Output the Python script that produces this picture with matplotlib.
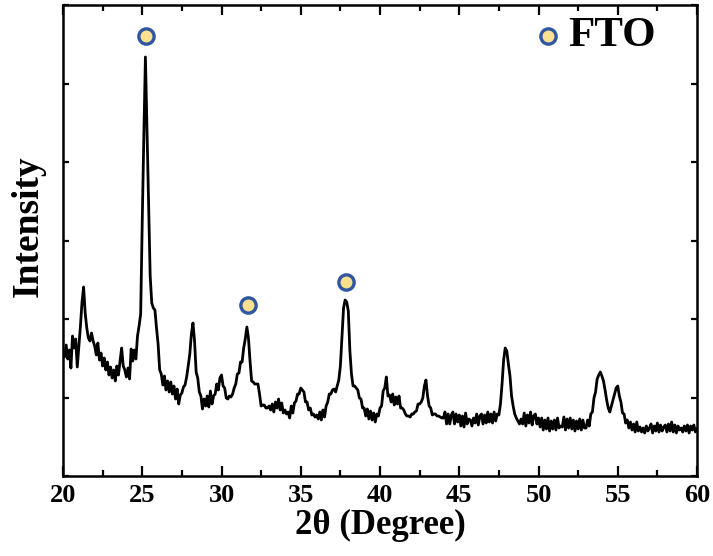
import numpy as np
import matplotlib
matplotlib.use("Agg")
import matplotlib.pyplot as plt
from matplotlib.ticker import MultipleLocator, NullFormatter

# 2-theta grid (degrees), step 0.1
two_theta = np.round(np.arange(20.0, 60.0001, 0.1), 2)

# Intensity (a.u.), one row per degree
intensity = [
    126, 119, 131, 117, 126, 108, 140, 128, 137, 109,   # 20
    130, 150, 174, 189, 163, 148, 138, 135, 143, 135,   # 21
    130, 121, 133, 116, 123, 110, 118, 106, 114, 101,   # 22
    109, 98, 106, 95, 110, 101, 115, 128, 110, 106,     # 23
    99, 108, 97, 127, 115, 126, 117, 140, 150, 162,     # 24
    255, 340, 419, 345, 268, 200, 173, 168, 166, 148,   # 25
    132, 106, 102, 91, 100, 86, 95, 84, 94, 82,         # 26
    90, 77, 87, 72, 81, 83, 89, 91, 99, 110,            # 27
    122, 142, 153, 135, 104, 98, 84, 80, 67, 77,        # 28
    70, 80, 69, 85, 72, 80, 82, 92, 86, 98,             # 29
    101, 90, 88, 78, 77, 80, 79, 82, 88, 92,            # 30
    102, 103, 114, 114, 128, 137, 149, 138, 115, 95,    # 31
    94, 92, 92, 92, 82, 70, 71, 71, 68, 68,             # 32
    70, 66, 72, 64, 74, 68, 77, 66, 73, 63,             # 33
    66, 62, 64, 58, 70, 63, 73, 75, 82, 82,             # 34
    88, 86, 84, 74, 74, 66, 68, 61, 62, 59,             # 35
    61, 57, 64, 56, 66, 59, 70, 74, 82, 82,             # 36
    86, 87, 84, 90, 96, 110, 140, 168, 176, 174,        # 37
    165, 125, 102, 90, 90, 88, 86, 78, 77, 68,          # 38
    68, 60, 67, 57, 65, 56, 63, 54, 62, 60,             # 39
    68, 70, 85, 88, 99, 80, 81, 74, 82, 71,             # 40
    79, 72, 80, 68, 68, 66, 62, 60, 60, 59,             # 41
    62, 62, 64, 65, 72, 72, 74, 78, 90, 96,             # 42
    80, 70, 68, 61, 62, 62, 60, 60, 59, 58,             # 43
    58, 64, 52, 62, 52, 61, 64, 52, 62, 54,             # 44
    61, 50, 60, 49, 63, 52, 57, 56, 50, 58,             # 45
    53, 62, 51, 60, 62, 52, 61, 53, 64, 54,             # 46
    62, 53, 64, 55, 62, 61, 72, 92, 116, 128,           # 47
    125, 112, 100, 80, 70, 62, 58, 55, 52, 57,          # 48
    52, 63, 50, 61, 53, 64, 51, 60, 62, 52,             # 49
    58, 49, 58, 46, 56, 47, 58, 45, 55, 47,             # 50
    56, 46, 58, 48, 50, 49, 59, 46, 57, 48,             # 51
    58, 47, 56, 45, 55, 47, 57, 46, 56, 48,             # 52
    48, 56, 50, 62, 64, 78, 84, 97, 101, 104,           # 53
    100, 95, 86, 76, 68, 64, 70, 76, 82, 88,            # 54
    90, 80, 74, 63, 62, 53, 56, 48, 54, 46,             # 55
    52, 44, 54, 45, 49, 44, 48, 43, 50, 45,             # 56
    48, 52, 43, 50, 45, 53, 44, 51, 45, 49,             # 57
    51, 44, 52, 45, 54, 44, 51, 43, 50, 46,             # 58
    48, 44, 50, 45, 51, 43, 50, 46, 51, 44,             # 59
    47,                                                 # 60
]

# FTO peak markers
marker_x = [25.25, 31.65, 37.85]
marker_y = [440, 171, 194]
legend_x = [50.6]
legend_y = [440]
legend_label = "FTO"

plt.rcParams['font.family'] = ['Liberation Serif', 'DejaVu Serif']
plt.rcParams['font.weight'] = 'bold'

fig = plt.figure(figsize=(7.13, 5.56), dpi=100)
ax = fig.add_axes([63/713, 80/556, 634/713, 471/556])

ax.plot(two_theta, intensity, color='black', lw=2.0)

mk = dict(marker='o', linestyle='none', ms=11, mfc='#FBE08F',
          mec='#2F56A0', mew=2.4)
ax.plot(marker_x, marker_y, **mk)
ax.plot(legend_x, legend_y, **mk)
ax.text(51.9, 440, legend_label, fontsize=31, fontweight='bold',
        ha='left', va='center')

ax.set_xlim(20, 60)
ax.set_ylim(0, 471)
ax.xaxis.set_major_locator(MultipleLocator(5))
ax.xaxis.set_minor_locator(MultipleLocator(2.5))
ax.yaxis.set_major_locator(MultipleLocator(78.5))
ax.yaxis.set_major_formatter(NullFormatter())

ax.tick_params(axis='both', which='both', direction='in', top=True, right=True,
               width=1.6)
ax.tick_params(axis='x', which='major', length=7, labelsize=19, pad=6)
ax.tick_params(axis='x', which='minor', length=4)
ax.tick_params(axis='y', which='major', length=4)
for lab in ax.get_xticklabels():
    lab.set_fontweight('bold')
for s in ax.spines.values():
    s.set_linewidth(1.8)

ax.set_xlabel('2θ (Degree)', fontsize=25, fontweight='bold', labelpad=1)
ax.set_ylabel('Intensity', fontsize=27, fontweight='bold')
ax.yaxis.set_label_coords(-0.027, 0.53)

fig.savefig('out.png', dpi=100)
